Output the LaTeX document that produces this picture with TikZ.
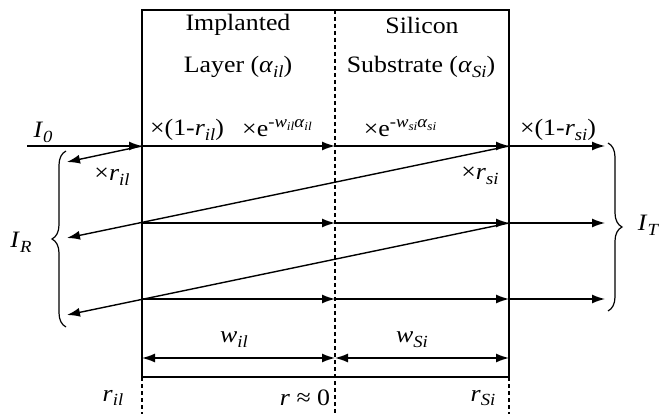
\documentclass[tikz,border=0pt]{standalone}
\usepackage{fontspec}
\setmainfont{Liberation Serif}[FakeStretch=1.1]
\usetikzlibrary{arrows.meta,decorations.pathreplacing}
\newcommand\lsub[1]{\raisebox{-0.45ex}{\fontsize{17}{17}\selectfont\itshape #1}}
\newcommand\expo[2]{\raisebox{0.8ex}{\fontsize{17}{17}\selectfont -\textit{w}\raisebox{-0.35ex}{\fontsize{12}{12}\selectfont\itshape #1}\textit{α}\raisebox{-0.35ex}{\fontsize{12}{12}\selectfont\itshape #2}}}
\begin{document}
\begin{tikzpicture}[x=1pt,y=-1pt,
  line width=1.4pt,
  ray/.style={-{Latex[length=13pt,width=9pt]}},
  dimarr/.style={{Latex[length=13pt,width=9pt]}-{Latex[length=13pt,width=9pt]}},
  dashline/.style={dash pattern=on 4pt off 3pt},
  lbl/.style={font=\fontsize{23.5}{27}\selectfont, inner sep=0pt},
  brc/.style={decorate,decoration={brace,amplitude=14pt,aspect=0.5}}]
\useasboundingbox (0,0) rectangle (659,414);
% box
\coordinate (TL) at (142,10); \coordinate (TR) at (509,10);
\coordinate (BL) at (142,377); \coordinate (BR) at (509,377);
\coordinate (TM) at (335,10); \coordinate (BM) at (335,414);
\coordinate (DL) at (142,414); \coordinate (DR) at (509,414);
\draw (BL) -- (TL) -- (TR) -- (BR) -- cycle;
\draw[dashline] (TM) -- (BM);
\draw[dashline] (BL) -- (DL);
\draw[dashline] (BR) -- (DR);
% rows
\coordinate (A0) at (27,146);
\foreach \r/\y in {1/146,2/223,3/299}{
  \coordinate (L\r) at (142,\y);
  \coordinate (M\r) at (335,\y);
  \coordinate (R\r) at (509,\y);
  \coordinate (T\r) at (605,\y);
}
\coordinate (E1) at (67,162);
\coordinate (E2) at (67,238);
\coordinate (E3) at (67,315);
\draw[ray] (A0) -- (L1);
\foreach \r in {1,2,3}{
  \draw[ray] (L\r) -- (M\r);
  \draw[ray] (M\r) -- (R\r);
  \draw[ray] (R\r) -- (T\r);
}
\draw[ray] (L1) -- (E1);
\draw[ray] (R1) -- (E2);
\draw[ray] (R2) -- (E3);
% dimensions
\coordinate (W1) at (142,358); \coordinate (W2) at (335,358); \coordinate (W3) at (509,358);
\draw[dimarr] (W1) -- (W2);
\draw[dimarr] (W2) -- (W3);
% braces
\coordinate (BRb) at (66,327); \coordinate (BRt) at (66,151);
\draw[brc, line width=1.2pt] (BRb) -- (BRt);
\coordinate (BTt) at (608,143); \coordinate (BTb) at (608,311);
\draw[brc, line width=1.2pt] (BTt) -- (BTb);
% labels
\node[lbl] (impl) at (238,25) {Implanted};
\node[lbl] (layer) at (238,67) {Layer (\textit{α}\lsub{il})};
\node[lbl] (sil) at (422,25) {Silicon};
\node[lbl] (subs) at (421,67) {Substrate (\textit{α}\lsub{Si})};
\node[lbl] (i0) at (43,132) {\textit{I}\lsub{0}};
\node[lbl] (t1) at (187,130) {×(1-\textit{r}\lsub{il})};
\node[lbl] (e1) at (277,128) {×e\expo{il}{il}};
\node[lbl] (e2) at (400,128) {×e\expo{si}{si}};
\node[lbl] (t2) at (558,130) {×(1-\textit{r}\lsub{si})};
\node[lbl] (ril) at (112,177) {×\textit{r}\lsub{il}};
\node[lbl] (rsi) at (480,176) {×\textit{r}\lsub{si}};
\node[lbl] (ir) at (21,242) {\textit{I}\lsub{R}};
\node[lbl] (it) at (648,225) {\textit{I}\lsub{T}};
\node[lbl] (wil) at (234,340) {\textit{w}\lsub{il}};
\node[lbl] (wsi) at (412,340) {\textit{w}\lsub{Si}};
\node[lbl] (bril) at (113,398) {\textit{r}\lsub{il}};
\node[lbl] (br0) at (305,398) {\textit{r} ≈ 0};
\node[lbl] (brsi) at (483,398) {\textit{r}\lsub{Si}};
\end{tikzpicture}
\end{document}
